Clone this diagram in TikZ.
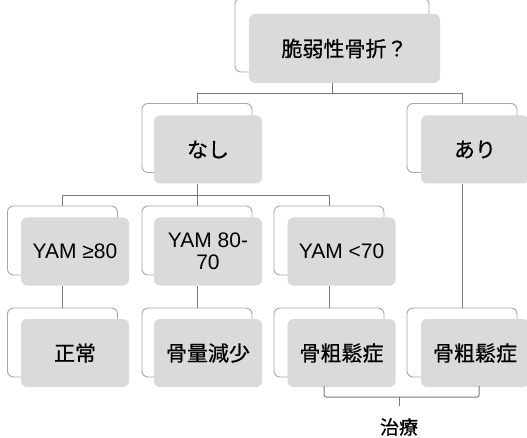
\documentclass[tikz,border=0pt]{standalone}
\usepackage{fontspec}
\setmainfont{Liberation Sans}
\newfontfamily\cjk[FakeBold=0.7]{Noto Sans CJK JP}
\usetikzlibrary{calc}
\definecolor{boxgray}{HTML}{DADADA}
\definecolor{backline}{HTML}{A8A8A8}
\definecolor{connline}{HTML}{7A7A7A}
\tikzset{
  backbox/.style={draw=backline, fill=white, line width=0.9pt, rounded corners=6pt,
    minimum width=110pt, minimum height=69pt, inner sep=0pt},
  graybox/.style={fill=boxgray, rounded corners=6pt, minimum width=108pt,
    minimum height=68pt, inner sep=0pt, align=center, font=\fontsize{21}{22}\selectfont},
  conn/.style={draw=connline, line width=1pt},
}
\begin{document}
\begin{tikzpicture}[x=1pt,y=-1pt]
\useasboundingbox (0,0) rectangle (527,438);
\clip (0,0) rectangle (527,438);
% level 1
\node[backbox, minimum width=194pt, minimum height=74pt] (b0) at (332,35) {};
\node[graybox, minimum width=191pt, minimum height=69pt] (g0) at (344.5,48.5) {\cjk 脆弱性骨折？};
% level 2
\node[backbox] (b21) at (197,138) {};
\node[graybox] (g21) at (208,149.5) {\cjk なし};
\node[backbox] (b22) at (462,138) {};
\node[graybox] (g22) at (475,149.5) {\cjk あり};
% level 3
\node[backbox] (b31) at (62.5,240.5) {};
\node[graybox] (g31) at (75,251.5) {YAM ≥80};
\node[backbox] (b32) at (197,240.5) {};
\node[graybox] (g32) at (208,251.5) {YAM 80-\\70};
\node[backbox] (b33) at (329,240.5) {};
\node[graybox] (g33) at (341.5,251.5) {YAM <70};
% level 4
\node[backbox] (b41) at (62.5,342.5) {};
\node[graybox] (g41) at (75,353) {\cjk 正常};
\node[backbox] (b42) at (197,342.5) {};
\node[graybox] (g42) at (208,353) {\cjk 骨量減少};
\node[backbox] (b43) at (329,342.5) {};
\node[graybox] (g43) at (341.5,353) {\cjk 骨粗鬆症};
\node[backbox] (b44) at (462,342.5) {};
\node[graybox] (g44) at (475,353) {\cjk 骨粗鬆症};
% connectors
\coordinate (j0) at ($(g0.south -| b0.center)+(0,10)$);
\draw[conn] (g0.south -| b0.center) -- (j0);
\draw[conn] (b21.north) |- (j0) -| (b22.north);
\coordinate (j1) at ($(g21.south -| b21.center)+(0,12)$);
\draw[conn] (g21.south -| b21.center) -- (j1);
\draw[conn] (b31.north) |- (j1) -| (b33.north);
\draw[conn] (j1) -- (b32.north);
\draw[conn] (g22.south -| b22.center) -- (b44.north);
\draw[conn] (g31.south -| b31.center) -- (b41.north);
\draw[conn] (g32.south -| b32.center) -- (b42.north);
\draw[conn] (g33.south -| b33.center) -- (b43.north);
% brace
\coordinate (brl) at (324,386);
\coordinate (brr) at (479,386);
\coordinate (brm) at (399,397);
\node[font=\cjk\fontsize{19}{20}\selectfont] (tr) at (399,427) {治療};
\draw[conn, rounded corners=2pt] (brl) -- (brl |- brm) -- (brr |- brm) -- (brr);
\draw[conn] (brm) -- ++(0,9);
\end{tikzpicture}
\end{document}
